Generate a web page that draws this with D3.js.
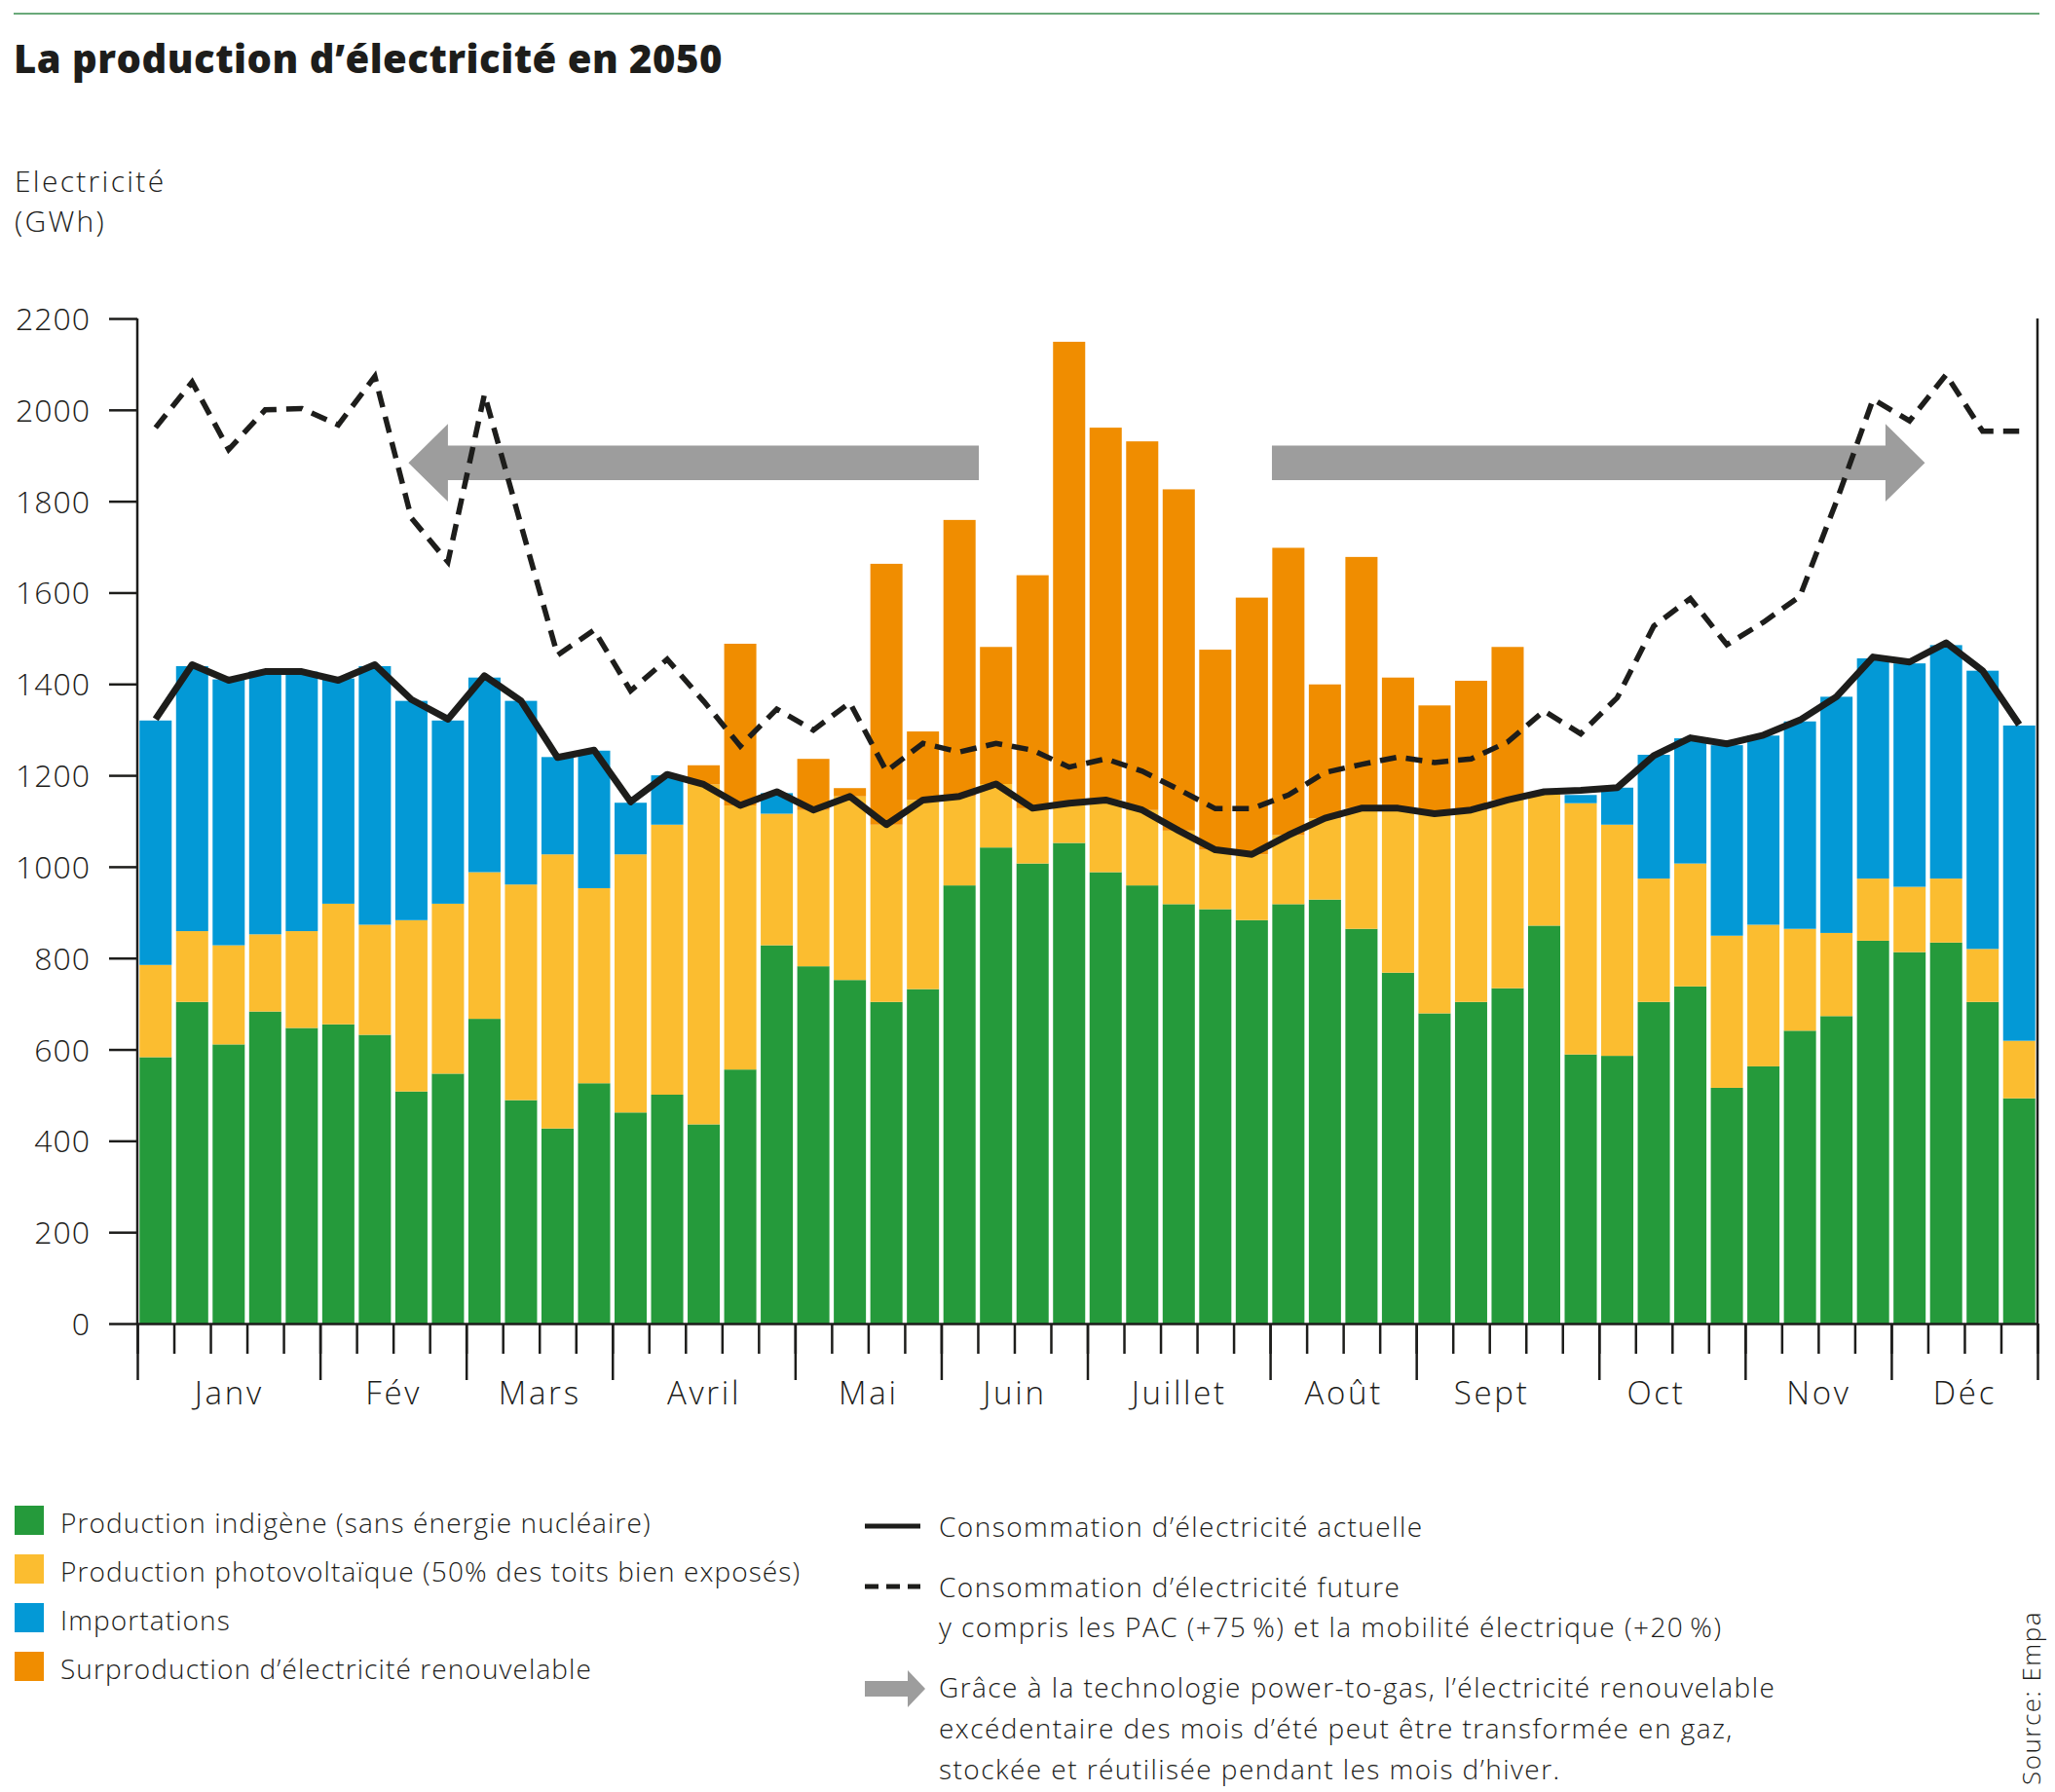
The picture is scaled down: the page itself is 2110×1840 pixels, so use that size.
<!DOCTYPE html>
<html><head><meta charset="utf-8">
<script src="https://cdn.jsdelivr.net/npm/d3@7"></script>
<style>
html,body{margin:0;padding:0;background:#fff;}
svg{display:block;}
text{font-family:"Open Sans",Lato,sans-serif;fill:#1d1d1b;}
</style></head>
<body>
<svg id="chart" width="2110" height="1840"></svg>
<script>
// ---------- DATA ----------
const monthNames = ["Janv","Fév","Mars","Avril","Mai","Juin","Juillet","Août","Sept","Oct","Nov","Déc"];
const weeksPerMonth = [5,4,4,5,4,4,5,4,5,4,4,4];
// label positions (in weeks) as placed in the original
const monthLabelPos = [2.5,7,11,15.5,20,24,28.5,33,37.05,41.55,46,50];
const yTicks = [0,200,400,600,800,1000,1200,1400,1600,1800,2000,2200];

// Production indigène (sans énergie nucléaire), GWh per week
const indigene = [583,704,611,683,647,655,632,508,547,667,489,427,526,462,501,436,556,828,782,752,704,732,959,1042,1007,1052,988,959,918,907,883,918,928,864,768,679,704,734,871,589,586,704,738,516,563,641,673,838,813,834,704,493];
// Production photovoltaïque
const photovoltaique = [202,155,217,169,212,264,241,375,372,321,472,600,427,565,591,744,578,288,342,402,388,414,195,139,121,87,158,165,161,130,144,151,178,264,360,437,420,412,290,550,506,270,269,333,310,223,182,136,143,140,116,126];
// Importations
const importations = [535,580,582,575,568,493,566,480,401,426,402,213,301,113,108,0,0,45,0,0,0,0,0,0,0,0,0,0,0,0,0,0,0,0,0,0,0,0,0,18,81,271,274,417,414,454,517,482,489,511,609,690];
// Surproduction d'électricité renouvelable
const surproduction = [0,0,0,0,0,0,0,0,0,0,0,0,0,0,0,42,354,0,112,18,571,150,605,300,510,1010,815,807,747,438,562,629,293,550,286,237,283,335,0,0,0,0,0,0,0,0,0,0,0,0,0,0];
// Consommation d'électricité actuelle
const consActuelle = [1323,1442,1408,1427,1427,1408,1442,1366,1323,1418,1363,1239,1255,1142,1202,1180,1134,1164,1124,1154,1092,1146,1154,1181,1128,1139,1146,1124,1079,1037,1027,1069,1106,1128,1128,1116,1124,1146,1164,1167,1173,1243,1282,1269,1288,1321,1372,1459,1448,1490,1429,1311];
// Consommation d'électricité future (PAC +75 %, mobilité électrique +20 %)
const consFuture = [1961,2061,1913,2000,2003,1967,2073,1763,1667,2034,1748,1463,1518,1385,1454,1362,1264,1345,1299,1359,1209,1270,1251,1270,1255,1218,1236,1209,1169,1127,1127,1157,1206,1224,1240,1228,1236,1273,1341,1291,1370,1527,1587,1486,1535,1592,1800,2023,1976,2077,1953,1953];

// Power-to-gas arrows: [from week, to week] at a GWh level (tip at "to")
const arrowSpans = [{from:23.03, to:7.42}, {from:31.05, to:48.92}];
const arrowLevel = 1884;

const seriesKeys = ["indigene","pv","imports","surplus"];
const seriesColors = {indigene:"#259a3b", pv:"#fbbd30", imports:"#0399d6", surplus:"#f08d00"};
const legendLabels = [
  "Production indigène (sans énergie nucléaire)",
  "Production photovoltaïque (50% des toits bien exposés)",
  "Importations",
  "Surproduction d’électricité renouvelable"
];

// ---------- LAYOUT ----------
const X0 = 141, X1 = 2092, Y0 = 1359, Y1 = 327;
const weeks = d3.range(52);
const table = weeks.map(i => ({week:i, indigene:indigene[i], pv:photovoltaique[i], imports:importations[i], surplus:surproduction[i]}));

const svg = d3.select("#chart");
const x = d3.scaleBand().domain(weeks).range([X0, X1]).paddingInner(0.12).paddingOuter(0.06).align(0.5);
const xl = d3.scaleLinear().domain([0,52]).range([X0, X1]);
const y = d3.scaleLinear().domain([0,2200]).range([Y0, Y1]);

const LIGHT = 300;
const LS = "1.1px";

// top rule
svg.append("line").attr("x1",14).attr("x2",2094).attr("y1",14).attr("y2",14)
  .attr("stroke","#6aa97a").attr("stroke-width",2);

// title
svg.append("text").attr("x",14).attr("y",75).text("La production d’électricité en 2050")
  .style("font-size","40px").style("font-weight",800).style("letter-spacing","0.5px");

// y label
svg.append("text").attr("x",15).attr("y",197).text("Electricité").style("font-size","30px").style("font-weight",LIGHT).style("letter-spacing","2.3px");
svg.append("text").attr("x",15).attr("y",238).text("(GWh)").style("font-size","30px").style("font-weight",LIGHT).style("letter-spacing","2.3px");

// bars
const stacked = d3.stack().keys(seriesKeys)(table);
svg.append("g").selectAll("g").data(stacked).join("g")
  .attr("fill", d => seriesColors[d.key])
  .selectAll("rect").data(d => d).join("rect")
  .attr("x", d => x(d.data.week))
  .attr("width", x.bandwidth())
  .attr("y", d => y(d[1]))
  .attr("height", d => Math.max(0, y(d[0]) - y(d[1])));

// arrows
const arrowPath = s => {
  const dir = Math.sign(s.to - s.from);
  const headLen = 1.08; // weeks
  const base = s.to - dir*headLen;
  const sh = 38, hd = 85; // GWh half-heights
  const pts = [
    [s.from, arrowLevel+sh],[base, arrowLevel+sh],[base, arrowLevel+hd],[s.to, arrowLevel],
    [base, arrowLevel-hd],[base, arrowLevel-sh],[s.from, arrowLevel-sh]
  ];
  return "M" + pts.map(p => xl(p[0]) + "," + y(p[1])).join("L") + "Z";
};
svg.append("g").selectAll("path").data(arrowSpans).join("path")
  .attr("d", arrowPath).attr("fill","#9d9d9d");

// lines
const cx = i => x(i) + x.bandwidth()/2;
svg.append("path").datum(consFuture)
  .attr("d", d3.line().x((d,i)=>cx(i)).y(d=>y(d)))
  .attr("fill","none").attr("stroke","#1d1d1b").attr("stroke-width",5.5)
  .attr("stroke-dasharray","17,10");
svg.append("path").datum(consActuelle)
  .attr("d", d3.line().x((d,i)=>cx(i)).y(d=>y(d)))
  .attr("fill","none").attr("stroke","#1d1d1b").attr("stroke-width",7).attr("stroke-linejoin","round");

// y axis
const yAxis = svg.append("g").attr("transform",`translate(${X0},0)`)
  .call(d3.axisLeft(y).tickValues(yTicks).tickSize(29).tickSizeOuter(0).tickPadding(19).tickFormat(d3.format("d")));
yAxis.selectAll("path,line").attr("stroke","#1d1d1b").attr("stroke-width",2.5);
yAxis.selectAll("text").style("font-size","32px").style("font-weight",LIGHT).style("letter-spacing","1px").attr("fill","#1d1d1b").attr("dy","0.36em");
yAxis.select(".domain").remove();
svg.append("line").attr("x1",X0).attr("x2",X0).attr("y1",Y1).attr("y2",Y0).attr("stroke","#1d1d1b").attr("stroke-width",2.5);
svg.append("line").attr("x1",X1).attr("x2",X1).attr("y1",Y1).attr("y2",Y0).attr("stroke","#1d1d1b").attr("stroke-width",2.5);

// x axis: minor ticks, major ticks, labels
const boundaries = d3.range(53);
const monthStarts = [0]; weeksPerMonth.forEach(n => monthStarts.push(monthStarts[monthStarts.length-1]+n));

const gMinor = svg.append("g").attr("transform",`translate(0,${Y0})`)
  .call(d3.axisBottom(xl).tickValues(boundaries).tickSize(31).tickSizeOuter(0).tickFormat(""));
const gMajor = svg.append("g").attr("transform",`translate(0,${Y0})`)
  .call(d3.axisBottom(xl).tickValues(monthStarts).tickSize(58).tickSizeOuter(0).tickFormat(""));
[gMinor,gMajor].forEach(g => g.selectAll("path,line").attr("stroke","#1d1d1b").attr("stroke-width",2.5));
gMajor.select(".domain").remove();
const gLab = svg.append("g").attr("transform",`translate(0,${Y0})`)
  .call(d3.axisBottom(xl).tickValues(monthLabelPos).tickSize(0).tickPadding(60).tickFormat((d,i)=>monthNames[i]));
gLab.select(".domain").remove();
gLab.selectAll("text").style("font-size","33px").style("font-weight",LIGHT).style("letter-spacing","2.7px").attr("fill","#1d1d1b");

// legend left
const lg = svg.append("g");
legendLabels.forEach((lab,i) => {
  const yy = 1546 + i*50;
  lg.append("rect").attr("x",15).attr("y",yy).attr("width",30).attr("height",30).attr("fill",seriesColors[seriesKeys[i]]);
  lg.append("text").attr("x",62).attr("y",yy+28).text(lab).style("font-size","28px").style("font-weight",LIGHT).style("letter-spacing",LS);
});

// legend right
const rg = svg.append("g");
const rtxt = (t,yy) => rg.append("text").attr("x",964).attr("y",yy).text(t).style("font-size","28px").style("font-weight",LIGHT).style("letter-spacing","1.45px");
rg.append("line").attr("x1",888).attr("x2",945).attr("y1",1567).attr("y2",1567).attr("stroke","#1d1d1b").attr("stroke-width",5);
rtxt("Consommation d’électricité actuelle",1578);
rg.append("line").attr("x1",888).attr("x2",945).attr("y1",1629).attr("y2",1629).attr("stroke","#1d1d1b").attr("stroke-width",5).attr("stroke-dasharray","14,8");
rtxt("Consommation d’électricité future",1640);
rtxt("y compris les PAC (+75\u2009%) et la mobilité électrique (+20\u2009%)",1681);
rg.append("path").attr("d","M888,1726L932,1726L932,1715L950,1734L932,1753L932,1742L888,1742Z").attr("fill","#9d9d9d");
["Grâce à la technologie power-to-gas, l’électricité renouvelable",
 "excédentaire des mois d’été peut être transformée en gaz,",
 "stockée et réutilisée pendant les mois d’hiver."].forEach((t,i)=> rtxt(t, 1743+i*42));

// source
svg.append("text").attr("transform","translate(2095,1833) rotate(-90)").text("Source: Empa")
  .style("font-size","26px").style("font-weight",LIGHT).style("letter-spacing","1.5px");
</script>
</body></html>
